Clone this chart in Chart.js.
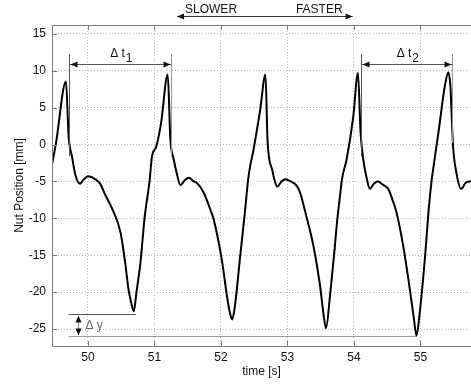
<!DOCTYPE html>
<html>
<head>
<meta charset="utf-8">
<script src="https://cdn.jsdelivr.net/npm/chart.js@4/dist/chart.umd.min.js"></script>
<style>
  html, body { margin: 0; padding: 0; background: #fff; }
  canvas { display: block; }
</style>
</head>
<body>
<canvas id="nut" width="471" height="386"></canvas>
<script>
// ---- data ----
var times = [
  49.46, 49.52, 49.67, 49.71, 49.76, 49.81, 49.88, 49.93, 50.00, 50.11,
  50.19, 50.26, 50.36, 50.49, 50.56, 50.61, 50.65, 50.69, 50.73,
  50.79, 50.85, 50.93, 50.96, 51.03, 51.10, 51.20, 51.24, 51.29, 51.34,
  51.39, 51.46, 51.52, 51.59, 51.64, 51.74, 51.84, 51.89, 52.02, 52.09,
  52.14, 52.17, 52.21, 52.29, 52.36, 52.41, 52.44, 52.49, 52.59, 52.67,
  52.70, 52.77, 52.85, 52.91, 52.97, 53.05, 53.14, 53.19, 53.27, 53.39,
  53.49, 53.54, 53.58, 53.64, 53.70, 53.75, 53.79, 53.82, 53.89, 53.99,
  54.06, 54.10, 54.14, 54.19, 54.24, 54.30, 54.36, 54.43, 54.52, 54.58,
  54.64, 54.74, 54.84, 54.90, 54.94, 54.99, 55.07, 55.12, 55.17, 55.19,
  55.27, 55.37, 55.42, 55.45, 55.49, 55.54, 55.61, 55.69, 55.76
];
var position = [
  -2.7, 0.2, 8.55, 1.1, -1.6, -4.05, -5.3, -4.8, -4.3, -4.7,
  -5.4, -6.8, -8.6, -11.9, -16.0, -19.6, -21.4, -22.6, -20.0,
  -16.0, -10.1, -4.7, -1.8, -0.2, 2.9, 9.5, 0.7, -2.0, -4.05,
  -5.5, -4.8, -4.5, -5.0, -5.2, -6.5, -8.8, -10.1, -16.0, -20.5,
  -23.0, -23.7, -21.9, -15.1, -9.2, -4.7, -2.9, -0.7, 4.7, 9.5,
  0.7, -3.4, -5.7, -5.0, -4.7, -5.0, -5.6, -6.5, -9.2, -13.7,
  -19.1, -22.8, -24.9, -20.5, -15.1, -10.1, -7.0, -4.7, -2.0, 3.8,
  9.7, 1.6, -2.0, -4.5, -6.0, -5.3, -5.0, -5.4, -6.1, -7.5,
  -9.2, -13.7, -19.6, -23.5, -25.9, -22.7, -15.1, -9.2, -4.7, -3.4,
  1.6, 8.1, 9.8, 7.9, -0.2, -3.8, -6.0, -5.1, -5.0
];
var xTicks = [50, 51, 52, 53, 54, 55];
var yTicks = [15, 10, 5, 0, -5, -10, -15, -20, -25];
var xRange = [49.46, 55.76];
var yRange = [-27.3, 16.2];

// annotation marks (data coordinates)
var dt1 = { from: 49.71, to: 51.25, y: 10.85, top: 12.3, bottomL: -1.6, bottomR: -1.6, sub: '1' };
var dt2 = { from: 54.11, to: 55.48, y: 10.85, top: 12.3, bottomL: -1.6, bottomR: 0.2, sub: '2' };
var dy = { x: 49.85, yTop: -22.9, yBot: -25.9, lineFrom: 49.71, topTo: 50.72, botTo: 54.94 };
var speed = { from: 51.34, to: 53.98 };

var FONT = "'Liberation Sans', Arial, sans-serif";

function arrowHead(ctx, x, y, dir) {
  // dir: 'l','r','u','d'
  ctx.beginPath();
  if (dir === 'l') { ctx.moveTo(x, y); ctx.lineTo(x + 7, y - 3); ctx.lineTo(x + 7, y + 3); }
  if (dir === 'r') { ctx.moveTo(x, y); ctx.lineTo(x - 7, y - 3); ctx.lineTo(x - 7, y + 3); }
  if (dir === 'u') { ctx.moveTo(x, y); ctx.lineTo(x - 3, y + 7); ctx.lineTo(x + 3, y + 7); }
  if (dir === 'd') { ctx.moveTo(x, y); ctx.lineTo(x - 3, y - 7); ctx.lineTo(x + 3, y - 7); }
  ctx.closePath();
  ctx.fill();
}

var boxPlugin = {
  id: 'matlabBox',
  afterDraw: function (chart) {
    var ctx = chart.ctx;
    var a = chart.chartArea;
    var xs = chart.scales.x, ys = chart.scales.y;
    ctx.save();
    // axes box
    ctx.strokeStyle = '#7a7a7a';
    ctx.lineWidth = 1;
    ctx.beginPath();
    ctx.moveTo(a.left + 0.5, a.top + 0.5);
    ctx.lineTo(a.right, a.top + 0.5);
    ctx.moveTo(a.left + 0.5, a.top);
    ctx.lineTo(a.left + 0.5, a.bottom + 0.5);
    ctx.lineTo(a.right, a.bottom + 0.5);
    ctx.stroke();
    // inner ticks
    ctx.beginPath();
    xTicks.forEach(function (t) {
      var px = Math.round(xs.getPixelForValue(t)) + 0.5;
      ctx.moveTo(px, a.bottom); ctx.lineTo(px, a.bottom - 5);
      ctx.moveTo(px, a.top); ctx.lineTo(px, a.top + 5);
    });
    yTicks.forEach(function (v) {
      var py = Math.round(ys.getPixelForValue(v)) + 0.5;
      ctx.moveTo(a.left, py); ctx.lineTo(a.left + 5, py);
    });
    ctx.stroke();

    // delta t marks
    ctx.fillStyle = '#111';
    ctx.font = '12px ' + FONT;
    [dt1, dt2].forEach(function (d) {
      var x1 = Math.round(xs.getPixelForValue(d.from)) + 0.5;
      var x2 = Math.round(xs.getPixelForValue(d.to)) + 0.5;
      var yy = Math.round(ys.getPixelForValue(d.y)) + 0.5;
      var yt = ys.getPixelForValue(d.top);
      ctx.strokeStyle = '#555';
      ctx.beginPath();
      ctx.moveTo(x1, yt); ctx.lineTo(x1, ys.getPixelForValue(d.bottomL));
      ctx.stroke();
      ctx.strokeStyle = '#999';
      ctx.beginPath();
      ctx.moveTo(x2, yt); ctx.lineTo(x2, ys.getPixelForValue(d.bottomR));
      ctx.stroke();
      ctx.strokeStyle = '#555';
      ctx.beginPath();
      ctx.moveTo(x1, yy); ctx.lineTo(x2, yy);
      ctx.stroke();
      arrowHead(ctx, x1 + 1, yy, 'l');
      arrowHead(ctx, x2 - 1, yy, 'r');
      var cx = (x1 + x2) / 2;
      ctx.textAlign = 'left';
      ctx.textBaseline = 'alphabetic';
      ctx.font = '12px ' + FONT;
      var label = '\u0394 t';
      var w = ctx.measureText(label).width;
      ctx.fillText(label, cx - w / 2 - 3, yy - 8);
      ctx.fillText(d.sub, cx + w / 2 - 2, yy - 3);
    });

    // delta y marks
    var lx = xs.getPixelForValue(dy.lineFrom);
    var ty = Math.round(ys.getPixelForValue(dy.yTop)) + 0.5;
    var by = Math.round(ys.getPixelForValue(dy.yBot)) + 0.5;
    ctx.strokeStyle = '#555';
    ctx.beginPath();
    ctx.moveTo(lx, ty); ctx.lineTo(xs.getPixelForValue(dy.topTo), ty);
    ctx.stroke();
    ctx.strokeStyle = '#999';
    ctx.beginPath();
    ctx.moveTo(lx, by); ctx.lineTo(xs.getPixelForValue(dy.botTo), by);
    ctx.stroke();
    var ax = Math.round(xs.getPixelForValue(dy.x)) + 0.5;
    ctx.strokeStyle = '#888';
    ctx.beginPath();
    ctx.moveTo(ax, ty + 2); ctx.lineTo(ax, by - 2);
    ctx.stroke();
    ctx.fillStyle = '#111';
    arrowHead(ctx, ax, ty + 1, 'u');
    arrowHead(ctx, ax, by - 1, 'd');
    ctx.fillStyle = '#666';
    ctx.textAlign = 'left';
    ctx.textBaseline = 'middle';
    ctx.fillText('\u0394 y', ax + 7, (ty + by) / 2);

    // slower / faster
    var sx1 = xs.getPixelForValue(speed.from);
    var sx2 = xs.getPixelForValue(speed.to);
    var sy = 16.5;
    ctx.strokeStyle = '#333';
    ctx.beginPath();
    ctx.moveTo(sx1, sy); ctx.lineTo(sx2, sy);
    ctx.stroke();
    ctx.fillStyle = '#111';
    arrowHead(ctx, sx1, sy, 'l');
    arrowHead(ctx, sx2, sy, 'r');
    ctx.textBaseline = 'alphabetic';
    ctx.textAlign = 'left';
    ctx.fillText('SLOWER', sx1 + 8, sy - 4);
    ctx.textAlign = 'right';
    ctx.fillText('FASTER', sx2 - 10, sy - 4);
    ctx.restore();
  }
};

var points = times.map(function (t, i) { return { x: t, y: position[i] }; });

new Chart(document.getElementById('nut'), {
  type: 'line',
  data: {
    datasets: [{
      data: points,
      borderColor: '#000',
      borderWidth: 2,
      pointRadius: 0,
      cubicInterpolationMode: 'monotone',
      fill: false
    }]
  },
  options: {
    responsive: false,
    animation: false,
    events: [],
    layout: { padding: { top: 25, left: 0, right: 0, bottom: 0 } },
    plugins: { legend: { display: false }, tooltip: { enabled: false } },
    scales: {
      x: {
        type: 'linear',
        min: xRange[0],
        max: xRange[1],
        afterBuildTicks: function (s) { s.ticks = xTicks.map(function (v) { return { value: v }; }); },
        afterFit: function (s) { s.height = 40; },
        grid: { color: '#b8b8b8', lineWidth: 1, drawTicks: false },
        border: { display: false, dash: [1, 2] },
        ticks: { color: '#111', font: { family: FONT, size: 12 }, padding: 4, maxRotation: 0 },
        title: { display: true, text: 'time [s]', color: '#111', font: { family: FONT, size: 12 }, padding: { top: 0, bottom: 7 } }
      },
      y: {
        type: 'linear',
        min: yRange[0],
        max: yRange[1],
        afterBuildTicks: function (s) { s.ticks = yTicks.map(function (v) { return { value: v }; }); },
        afterFit: function (s) { s.width = 52; },
        grid: { color: '#b8b8b8', lineWidth: 1, drawTicks: false },
        border: { display: false, dash: [1, 2] },
        ticks: { color: '#111', font: { family: FONT, size: 12 }, padding: 6 },
        title: { display: true, text: 'Nut Position [mm]', color: '#111', font: { family: FONT, size: 12 }, padding: { top: 12, bottom: 0 } }
      }
    }
  },
  plugins: [boxPlugin]
});
</script>
</body>
</html>
